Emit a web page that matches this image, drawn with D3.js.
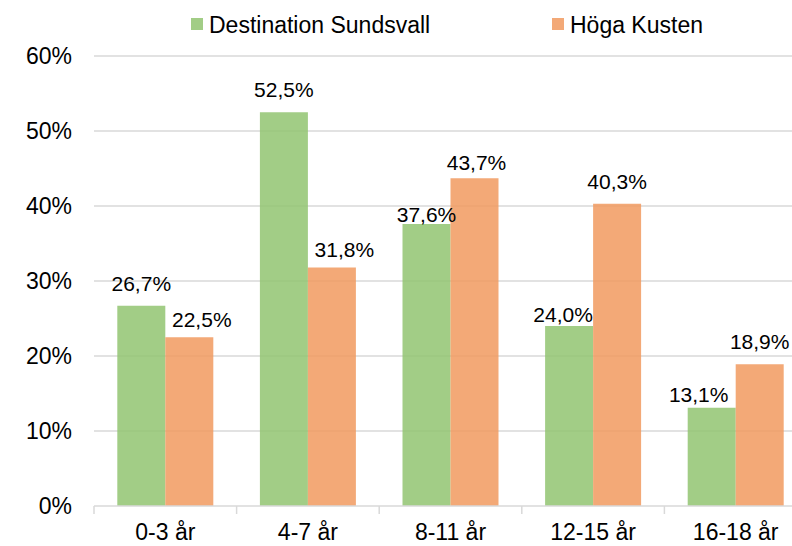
<!DOCTYPE html>
<html>
<head>
<meta charset="utf-8">
<script src="https://cdn.jsdelivr.net/npm/d3@7/dist/d3.min.js"></script>
<style>
  html, body { margin: 0; padding: 0; background: #fff; }
  svg { display: block; font-family: "Liberation Sans", Arial, sans-serif; }
</style>
</head>
<body>
<svg id="chart" width="792" height="546"></svg>
<script>
const categories = ["0-3 år", "4-7 år", "8-11 år", "12-15 år", "16-18 år"];
const seriesNames = ["Destination Sundsvall", "Höga Kusten"];
const sundsvall = [26.7, 52.5, 37.6, 24.0, 13.1];
const hogaKusten = [22.5, 31.8, 43.7, 40.3, 18.9];
const yTicks = [0, 10, 20, 30, 40, 50, 60];

// label nudges (Excel moved a few labels to avoid overlap)
const labelNudge = {
  "Destination Sundsvall|8-11 år": [0, 13],
  "Destination Sundsvall|12-15 år": [-6, 10.5],
  "Destination Sundsvall|16-18 år": [-13, 9],
  "Höga Kusten|0-3 år": [12.5, 4.5],
  "Höga Kusten|4-7 år": [12.5, 4],
  "Höga Kusten|8-11 år": [2, 7],
};

const colors = d3.scaleOrdinal().domain(seriesNames).range(["#92c471", "#f19a5f"]);

const svg = d3.select("#chart");
const width = 792;

const x0 = d3.scaleBand().domain(categories).range([94, 94 + 5 * 142.6]);
const x1 = d3.scaleBand().domain(seriesNames).range([23.3, x0.bandwidth() - 23.3]);
const y = d3.scaleLinear().domain([0, 60]).range([506, 56]);

const fmt = (v) => v.toFixed(1).replace(".", ",") + "%";

// gridlines
svg.append("g")
  .selectAll("line")
  .data(yTicks.slice(1))
  .enter()
  .append("line")
  .attr("x1", 94)
  .attr("x2", width)
  .attr("y1", (d) => y(d))
  .attr("y2", (d) => y(d))
  .attr("stroke", "#d9d9d9")
  .attr("stroke-width", 1.5);

// y labels
svg.append("g")
  .selectAll("text")
  .data(yTicks)
  .enter()
  .append("text")
  .attr("x", 72)
  .attr("y", (d) => y(d))
  .attr("dy", "0.35em")
  .attr("text-anchor", "end")
  .attr("font-size", 23)
  .attr("fill", "#000")
  .text((d) => d + "%");

const rows = categories.map((c, i) => ({
  category: c,
  values: [
    { series: seriesNames[0], value: sundsvall[i] },
    { series: seriesNames[1], value: hogaKusten[i] },
  ],
}));

const groups = svg.append("g")
  .selectAll("g")
  .data(rows)
  .enter()
  .append("g")
  .attr("transform", (d) => `translate(${x0(d.category)},0)`);

groups.selectAll("rect")
  .data((d) => d.values)
  .enter()
  .append("rect")
  .attr("x", (d) => x1(d.series))
  .attr("width", x1.bandwidth())
  .attr("y", (d) => y(d.value))
  .attr("height", (d) => y(0) - y(d.value))
  .attr("fill", (d) => colors(d.series))
  .attr("fill-opacity", 0.85);

groups.selectAll("text")
  .data((d) => d.values.map((v) => ({ ...v, category: d.category })))
  .enter()
  .append("text")
  .attr("x", (d) => {
    const n = labelNudge[d.series + "|" + d.category] || [0, 0];
    return x1(d.series) + x1.bandwidth() / 2 + n[0];
  })
  .attr("y", (d) => {
    const n = labelNudge[d.series + "|" + d.category] || [0, 0];
    return y(d.value) - 15 + n[1];
  })
  .attr("text-anchor", "middle")
  .attr("font-size", 21)
  .attr("fill", "#000")
  .text((d) => fmt(d.value));

// x axis baseline + ticks
const axis = svg.append("g");
axis.append("line")
  .attr("x1", 94)
  .attr("x2", width)
  .attr("y1", y(0))
  .attr("y2", y(0))
  .attr("stroke", "#d9d9d9")
  .attr("stroke-width", 1.5);

const tickXs = categories.map((c) => x0(c)).concat([x0.range()[1]]);
axis.selectAll(".tick")
  .data(tickXs)
  .enter()
  .append("line")
  .attr("class", "tick")
  .attr("x1", (d) => d)
  .attr("x2", (d) => d)
  .attr("y1", y(0))
  .attr("y2", y(0) + 8)
  .attr("stroke", "#d9d9d9")
  .attr("stroke-width", 1.5);

axis.selectAll(".cat")
  .data(categories)
  .enter()
  .append("text")
  .attr("class", "cat")
  .attr("x", (d) => x0(d) + x0.bandwidth() / 2)
  .attr("y", 540)
  .attr("text-anchor", "middle")
  .attr("font-size", 23)
  .attr("fill", "#000")
  .text((d) => d);

// legend
const legendPos = [191, 552];
const legend = svg.append("g")
  .selectAll("g")
  .data(seriesNames)
  .enter()
  .append("g")
  .attr("transform", (d, i) => `translate(${legendPos[i]}, 18)`);

legend.append("rect")
  .attr("width", 12)
  .attr("height", 12)
  .attr("fill", (d) => colors(d))
  .attr("fill-opacity", 0.85);

legend.append("text")
  .attr("x", 18)
  .attr("y", 14.5)
  .attr("font-size", 23)
  .attr("fill", "#000")
  .text((d) => d);
</script>
</body>
</html>
